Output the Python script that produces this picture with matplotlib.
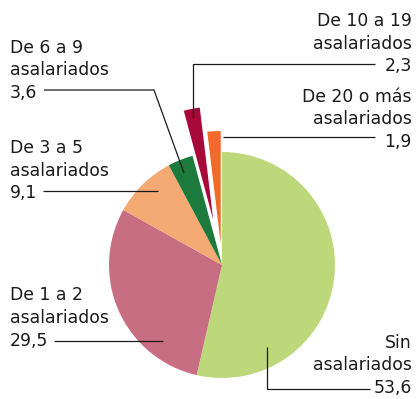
import matplotlib
matplotlib.use("Agg")
import matplotlib.pyplot as plt

# share of companies by number of employees (%)
categories = ["Sin\nasalariados", "De 1 a 2\nasalariados", "De 3 a 5\nasalariados",
              "De 6 a 9\nasalariados", "De 10 a 19\nasalariados", "De 20 o más\nasalariados"]
values = [53.6, 29.5, 9.1, 3.6, 2.3, 1.9]
colors = ["#bdd87a", "#c86e82", "#f5a973", "#1b7a3c", "#a8093a", "#f26a2b"]
explode = [0, 0, 0, 0, 46, 21]

W, H = 416, 399
fig = plt.figure(figsize=(W / 100, H / 100), dpi=100)
ax = fig.add_axes([0, 0, 1, 1])

# pixel-like coordinates, y grows downwards, so counterclock runs clockwise on screen
ax.pie(values, colors=colors, explode=explode, center=(222, 265), radius=113,
       startangle=-90, counterclock=True, wedgeprops=dict(linewidth=0))
ax.set_xlim(0, W)
ax.set_ylim(H, 0)
ax.set_aspect("equal")
ax.axis("off")

txt = dict(fontsize=12.4, color="#1a1a1a", family="DejaVu Sans")
lh = 22.6

# label anchors: x, baseline of first line, alignment
anchors = [(412, 347.7, "right"), (10, 300.5, "left"), (10, 153, "left"),
           (10, 52.7, "left"), (412, 26, "right"), (412, 101.7, "right")]
for name, v, (x, y0, ha) in zip(categories, values, anchors):
    lines = name.split("\n") + [f"{v:.1f}".replace(".", ",")]
    for i, s in enumerate(lines):
        ax.text(x, y0 + i * lh, s, ha=ha, va="baseline", **txt)

# leader lines
leaders = [
    ([267, 267, 370], [347, 389, 389]),
    ([54, 163], [341, 341]),
    ([43, 158], [191, 191]),
    ([44, 154, 184], [90, 90, 173]),
    ([375, 193, 193], [64, 64, 118]),
    ([375, 223], [137, 137]),
]
for xs, ys in leaders:
    ax.plot(xs, ys, color="#1a1a1a", lw=0.9, solid_capstyle="butt")

fig.savefig("out.png", dpi=100)
